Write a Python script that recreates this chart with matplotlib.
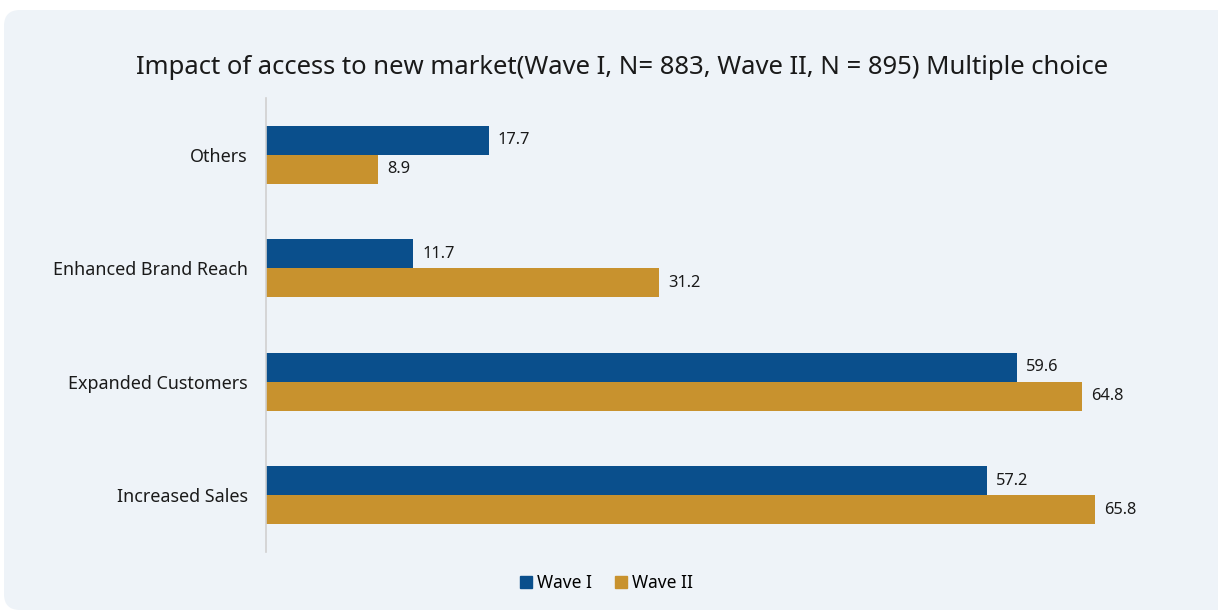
import matplotlib
matplotlib.use("Agg")
import matplotlib.pyplot as plt
from matplotlib.patches import FancyBboxPatch
import numpy as np

plt.rcParams['font.family'] = ['Noto Sans', 'DejaVu Sans']

categories = ["Increased Sales", "Expanded Customers", "Enhanced Brand Reach", "Others"]
wave1 = [57.2, 59.6, 11.7, 17.7]
wave2 = [65.8, 64.8, 31.2, 8.9]
series_names = ["Wave I", "Wave II"]
colors = ["#0a4f8c", "#c8922e"]
title = "Impact of access to new market(Wave I, N= 883, Wave II, N = 895) Multiple choice"

W, H = 1218, 614
fig = plt.figure(figsize=(W / 100, H / 100), dpi=100)
fig.patch.set_facecolor("white")

# rounded panel behind the chart
bg = fig.add_axes([0, 0, 1, 1], zorder=-10)
bg.set_xlim(0, W)
bg.set_ylim(H, 0)
bg.axis("off")
bg.add_patch(FancyBboxPatch((4, 10), W + 30, H - 14,
                            boxstyle="round,pad=0,rounding_size=16",
                            facecolor="#eef3f8", edgecolor="none"))

ax_left, ax_right = 266, 1211
ax_top, ax_bottom = 98, 552
ax = fig.add_axes([ax_left / W, 1 - ax_bottom / H, (ax_right - ax_left) / W, (ax_bottom - ax_top) / H])
ax.set_facecolor("none")

y = np.arange(len(categories))
h = 0.255
b1 = ax.barh(y + h / 2, wave1, height=h, color=colors[0], label=series_names[0])
b2 = ax.barh(y - h / 2, wave2, height=h, color=colors[1], label=series_names[1])

for bars, vals in ((b1, wave1), (b2, wave2)):
    for bar, v in zip(bars, vals):
        ax.text(v + 0.7, bar.get_y() + bar.get_height() / 2, f"{v:.1f}",
                va="center", ha="left", fontsize=11.8, color="#1a1a1a")

ax.set_xlim(0, 75)
ax.set_ylim(-0.5, 3.5)
ax.set_yticks(y)
ax.set_yticklabels(categories, fontsize=12.9, color="#1a1a1a")
ax.tick_params(axis="y", length=0, pad=13)
ax.set_xticks([])
for s in ("top", "right", "bottom"):
    ax.spines[s].set_visible(False)
ax.spines["left"].set_color("#d0d0d0")
ax.spines["left"].set_linewidth(1.2)

fig.text(622 / W, 1 - 67 / H, title, ha="center", va="center", fontsize=18.5, color="#1a1a1a")

handles = [plt.Line2D([], [], marker="s", linestyle="none", markersize=8,
                      markerfacecolor=c, markeredgecolor=c) for c in colors]
fig.legend(handles, series_names, loc="center", bbox_to_anchor=(605 / W, 1 - 583 / H),
           ncol=2, frameon=False, fontsize=12.5, handletextpad=0.1, columnspacing=1.2,
           handlelength=1.0)

fig.savefig("out.png", dpi=100, facecolor=fig.get_facecolor())
